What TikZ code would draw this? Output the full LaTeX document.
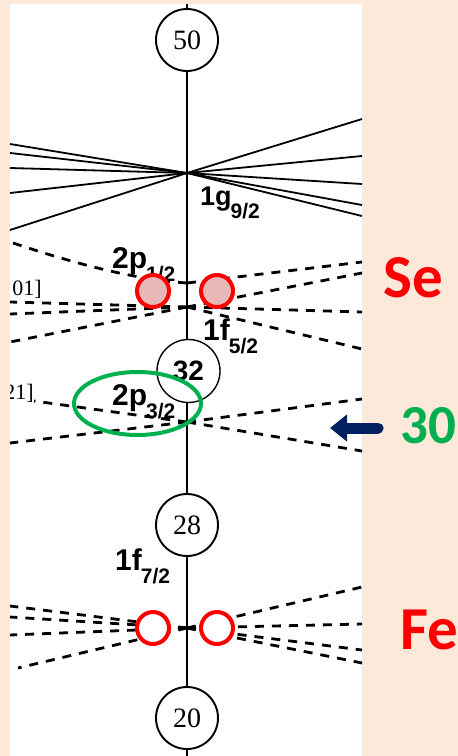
\documentclass[tikz,border=0pt]{standalone}
\usepackage{fontspec}
\setmainfont{Liberation Serif}
\newfontfamily\orbfont{Liberation Sans}
\newfontfamily\tagfont{Carlito}
\usetikzlibrary{shapes.geometric,arrows.meta}
\definecolor{peach}{HTML}{FCE9DA}
\definecolor{seared}{HTML}{FF0000}
\definecolor{sefill}{HTML}{E6B9B8}
\definecolor{ringgreen}{HTML}{00B050}
\definecolor{arrownavy}{HTML}{002060}
\newcommand{\orbsym}[3][30]{{\orbfont\bfseries\fontsize{#1}{#1}\selectfont #2\kern-1pt\raisebox{-13pt}{\fontsize{21}{21}\selectfont #3}}}

\begin{document}
\begin{tikzpicture}[x=1pt,y=-1pt,
  magic/.style={circle,draw,fill=white,line width=1.9pt,minimum size=62pt,inner sep=0pt,font=\fontsize{28}{28}\selectfont},
  fanline/.style={line width=1.8pt},
  levdash/.style={line width=2.8pt,dash pattern=on 9pt off 8pt},
  nucmark/.style={circle,draw=seared,line width=4pt,minimum size=32pt,inner sep=0pt},
  orblabel/.style={anchor=base west,inner sep=0pt},
  tag/.style={anchor=base west,inner sep=0pt,font=\tagfont\bfseries\fontsize{61}{61}\selectfont}]
\useasboundingbox (0,0) rectangle (458,756);
% Background and panel
\fill[peach] (0,0) rectangle (458,756);
\fill[white] (10,4) rectangle (362,756);

% 1g9/2 fan
\coordinate (c1g) at (187,173);
\foreach \y [count=\i] in {144,153,168,193,230} {
  \coordinate (gL\i) at (10,\y);
  \draw[fanline] (c1g) -- (gL\i);
}
\foreach \y [count=\i] in {119,156,184,205,216} {
  \coordinate (gR\i) at (362,\y);
  \draw[fanline] (c1g) -- (gR\i);
}

% 2p1/2 and 1f5/2 levels
\coordinate (c2p1) at (187,283);
\coordinate (c1f5) at (187,307);
\coordinate (pL) at (10,242);
\coordinate (pR) at (362,262);
\draw[levdash] (c2p1) .. controls (130,279) and (70,262) .. (pL);
\draw[levdash] (c2p1) -- (pR);
\foreach \y [count=\i] in {302,314,342} {
  \coordinate (fL\i) at (10,\y);
  \draw[levdash] (c1f5) -- (fL\i);
}
\foreach \y [count=\i] in {273,312,349} {
  \coordinate (fR\i) at (362,\y);
  \draw[levdash] (c1f5) -- (fR\i);
}

% 2p3/2 level
\coordinate (c2p3) at (187,422);
\coordinate (qL1) at (34,401);
\coordinate (qL2) at (10,443);
\coordinate (qR1) at (362,399);
\coordinate (qR2) at (362,451);
\foreach \e in {qL1,qL2,qR1,qR2}
  \draw[levdash] (c2p3) -- (\e);

% 1f7/2 level
\coordinate (c1f7) at (187,628);
\foreach \x/\y [count=\i] in {10/606,10/617,10/635,18/668} {
  \coordinate (hL\i) at (\x,\y);
  \draw[levdash] (c1f7) -- (hL\i);
}
\foreach \y [count=\i] in {587,624,650,663} {
  \coordinate (hR\i) at (362,\y);
  \draw[levdash] (c1f7) -- (hR\i);
}

% Axis and magic numbers
\coordinate (axtop) at (187,4);
\coordinate (axbot) at (187,756);
\draw[line width=1.7pt] (axtop) -- (axbot);
\node[magic] (n50) at (187,40) {50};
\node[magic,line width=1.4pt,minimum size=63pt,font=\orbfont\bfseries\fontsize{28}{28}\selectfont] (n32) at (188.5,371) {32};
\node[magic] (n28) at (187,525) {28};
\node[magic] (n20) at (187,718) {20};

% Orbital labels
\node[orblabel] (l1g) at (200,205) {\orbsym[27]{1g}{9/2}};
\node[orblabel] (l2p1) at (112,268) {\orbsym{2p}{1/2}};
\node[orblabel] (l1f5) at (203,340) {\orbsym{1f}{5/2}};
\node[orblabel] (l2p3) at (112,405) {\orbsym{2p}{3/2}};
\node[orblabel] (l1f7) at (115,570) {\orbsym{1f}{7/2}};
\begin{scope}
\clip (10,4) rectangle (362,756);
\node[anchor=base east,inner sep=0pt,font=\fontsize{22}{22}\selectfont] (q301) at (42,295) {01]};
\node[anchor=base east,inner sep=0pt,font=\fontsize{22}{22}\selectfont] (q321) at (34,399) {21]};
\end{scope}

% Nuclei marks
\node[nucmark,fill=sefill] (se1) at (153,291) {};
\node[nucmark,fill=sefill] (se2) at (217,291) {};
\node[nucmark,fill=white] (fe1) at (153,628) {};
\node[nucmark,fill=white] (fe2) at (217,628) {};
\node[ellipse,draw=ringgreen,line width=4pt,minimum width=127pt,minimum height=63pt,inner sep=0pt] (ring) at (137.5,403.5) {};

% Arrow and tags
\coordinate (arrtail) at (378,428);
\coordinate (arrtip) at (330,428);
\draw[arrownavy,line width=11pt,line cap=round,-{Triangle[length=17pt,width=26pt]}] (arrtail) -- (arrtip);
\node[tag,text=seared] (tSe) at (383,297) {Se};
\node[tag,text=ringgreen,font=\tagfont\bfseries\fontsize{55}{55}\selectfont] (t30) at (400,443) {30};
\node[tag,text=seared] (tFe) at (400,649) {Fe};
\end{tikzpicture}
\end{document}
